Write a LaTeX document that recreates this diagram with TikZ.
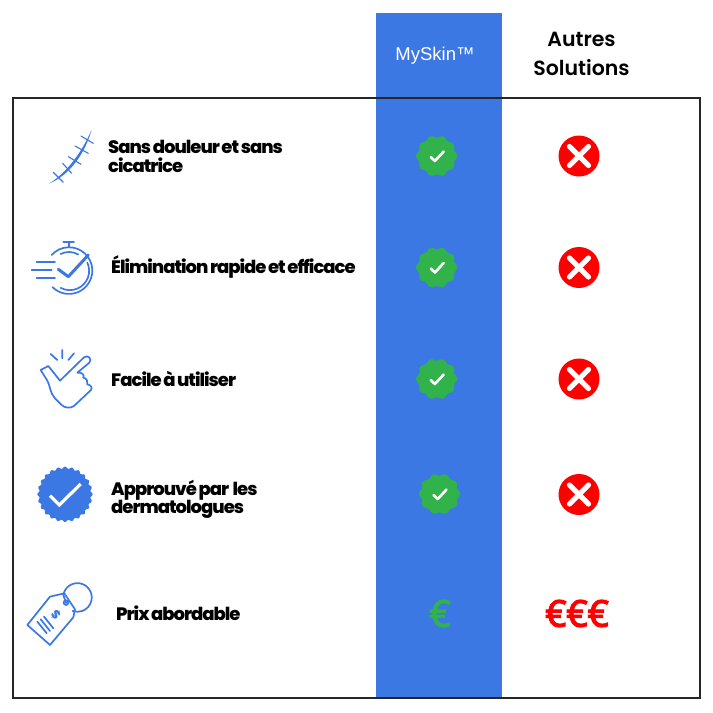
\documentclass[tikz,border=0pt]{standalone}
\usepackage{fontspec}
\setmainfont{Poppins}
\newfontfamily\rowfont[LetterSpace=-5.5,WordSpace=0.65,BoldFont={Poppins ExtraBold}]{Poppins}
\newfontfamily\headfont{Poppins SemiBold}
\newfontfamily\brandfont{Liberation Sans}
\newfontfamily\eurofont[FakeBold=3]{Noto Sans}
\definecolor{brand}{HTML}{3C78E3}
\definecolor{okgreen}{HTML}{32B24A}
\definecolor{nored}{HTML}{FF0000}
\newcommand{\scallop}[6]{% x,y,r,amp,n,fill
  \fill[#6] plot[domain=0:360,samples=121,smooth] ({#1+(#3+#4*cos(#5*\x))*cos(\x)},{#2+(#3+#4*cos(#5*\x))*sin(\x)}) -- cycle;}
\newcommand{\okbadge}[2]{%
  \scallop{#1}{#2}{19.5}{1.1}{10}{okgreen}
  \draw[white,line width=2.6pt,line cap=round,line join=round] (#1-6,#2+1) -- (#1-1.8,#2+5) -- (#1+7,#2-4.5);}
\newcommand{\nobadge}[2]{%
  \fill[nored] (#1,#2) circle (20.5);
  \draw[white,line width=5.2pt,line cap=round] (#1-9.5,#2-9.5) -- (#1+9.5,#2+9.5) (#1-9.5,#2+9.5) -- (#1+9.5,#2-9.5);}
\tikzset{
  rowtext/.style={anchor=west,align=left,inner sep=0pt,text=black,font=\rowfont\bfseries\fontsize{18}{18.5}\selectfont},
  icon/.style={draw=brand,line width=1.7pt,line cap=round,line join=round},
}
\begin{document}
\begin{tikzpicture}[x=1pt,y=-1pt]
\useasboundingbox (0,0) rectangle (713,713);
\fill[white] (0,0) rectangle (713,713);
% column and frame
\fill[brand] (376,13) rectangle (502,698);
\draw[black!85,line width=1.2pt] (13,98) rectangle (700,698);
% headers
\node[text=white,inner sep=0pt,font=\brandfont\fontsize{18.5}{20}\selectfont] (brandhead) at (435,55.5) {MySkin™};
\node[inner sep=0pt,align=center,font=\headfont\fontsize{20.5}{29}\selectfont] (otherhead) at (581.5,54) {Autres\\Solutions};
% row labels
\node[rowtext] (r1) at (108,156.5) {Sans douleur et sans\\cicatrice};
\node[rowtext] (r2) at (111,267) {Élimination rapide et efficace};
\node[rowtext] (r3) at (111,379) {Facile à utiliser};
\node[rowtext] (r4) at (111,499.5) {Approuvé par\hspace{2pt} les\\dermatologues};
\node[rowtext] (r5) at (116,613.5) {Prix abordable};
% badges
\okbadge{436.7}{156}\okbadge{436.7}{267.5}\okbadge{436.7}{379}\okbadge{439.5}{494}
\nobadge{579}{156}\nobadge{579}{267.5}\nobadge{579}{379}\nobadge{579}{494.5}
\node[text=okgreen,inner sep=0pt,font=\eurofont\fontsize{37}{37}\selectfont] (eur1) at (440,613.5) {€};
\node[text=nored,inner sep=0pt,font=\eurofont\fontsize{37}{37}\selectfont] (eur3) at (577,613.5) {€€€};
% scar icon
\begin{scope}[shift={(20,110)},x=0.3333pt,y=-0.3333pt]
\fill[brand] (87,221) .. controls (130,195) and (180,140) .. (215,59) .. controls (195,130) and (150,195) .. cycle;
\draw[icon,line width=1.1pt] (100,187) -- (130,217) (128,160) -- (155,190) (145,140) -- (183,163) (165,108) -- (205,130) (183,78) -- (220,100);
\end{scope}
% stopwatch icon
\begin{scope}[shift={(20,110)},x=0.3333pt,y=-0.3333pt]
\draw[icon] (130,395) -- (162,395) (146,395) -- (146,412);
\draw[icon] (95,435) arc[start angle=222,end angle=495,radius=70];
\draw[icon] (122,432) arc[start angle=243,end angle=300,radius=55];
\draw[icon] (202,458) arc[start angle=-25,end angle=118,radius=58];
\draw[icon] (50,455) -- (105,455) (35,480) -- (95,480) (50,505) -- (105,505);
\draw[icon,line width=3pt] (115,478) -- (145,500) -- (205,435);
\end{scope}
% hand icon
\begin{scope}[shift={(20,330)},x=0.3333pt,y=-0.3333pt]
\draw[icon] (62,120) -- (85,108) -- (120,152) -- (192,82)
  .. controls (203,72) and (218,88) .. (208,98) -- (172,128)
  .. controls (185,126) and (195,135) .. (190,143)
  .. controls (200,145) and (205,155) .. (202,163)
  .. controls (212,165) and (218,172) .. (213,180)
  -- (162,228) .. controls (150,236) and (135,234) .. (125,225)
  -- (105,205) .. controls (90,190) and (90,165) .. (82,152) -- cycle;
\draw[icon] (92,72) -- (112,90) (127,60) -- (127,85) (162,70) -- (145,90);
\end{scope}
% approved icon
\begin{scope}[shift={(20,330)},x=0.3333pt,y=-0.3333pt]
\fill[brand] plot[domain=0:360,samples=241,smooth] ({135+(80+3*cos(24*\x))*cos(\x)},{493+(80+3*cos(24*\x))*sin(\x)}) -- cycle;
\draw[white,line width=3.2pt,line join=miter] (90,497) -- (118,525) -- (182,462);
\end{scope}
% price tag icon
\begin{scope}[shift={(20,330)},x=0.3333pt,y=-0.3333pt]
\draw[icon] (90,800) -- (133,790) -- (165,838) -- (160,862) -- (90,945) -- (22,885) -- cycle;
\draw[icon] (138,818) circle (7);
\fill[brand] (138,818) circle (4);
\draw[icon] (130,795) arc[start angle=190,end angle=470,radius=43];
\draw[icon] (138,818) -- (130,795);
\draw[icon] (52,875) -- (80,910) (62,868) -- (90,903) (72,860) -- (100,895);
\node[text=brand,inner sep=0pt,rotate=-50,font=\rowfont\bfseries\fontsize{12}{12}\selectfont] (tagsign) at (108,855) {\$};
\end{scope}
\end{tikzpicture}
\end{document}
